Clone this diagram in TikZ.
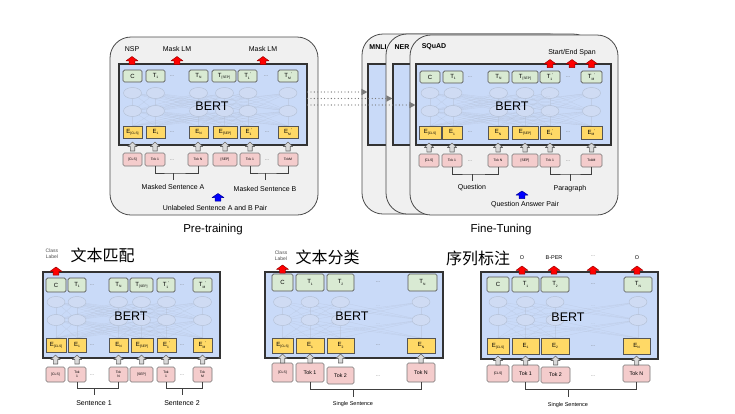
\documentclass[tikz,border=0pt]{standalone}
\usepackage{fontspec}
\setmainfont{Liberation Sans}
\newfontfamily\cjkfont{Noto Sans CJK SC}
\usetikzlibrary{arrows.meta}
\definecolor{panelfill}{HTML}{F0F0F0}
\definecolor{panelborder}{HTML}{4A4A4A}
\definecolor{bertfill}{HTML}{C9DAF8}
\definecolor{bertborder}{HTML}{333333}
\definecolor{tfill}{HTML}{D9EAD3}
\definecolor{tborder}{HTML}{555555}
\definecolor{efill}{HTML}{FFD966}
\definecolor{eborder}{HTML}{555555}
\definecolor{kfill}{HTML}{F4CCCC}
\definecolor{kborder}{HTML}{777777}
\definecolor{netc}{HTML}{B3BFD4}
\definecolor{netf}{HTML}{CFDBF3}
\definecolor{dotc}{HTML}{7A7A7A}
\definecolor{redA}{HTML}{FF0000}
\definecolor{redB}{HTML}{990000}
\definecolor{blueA}{HTML}{0000FF}
\definecolor{blueB}{HTML}{000099}
\definecolor{grayA}{HTML}{D9D9D9}
\definecolor{grayB}{HTML}{666666}
\newcommand\fnBox{\fontsize{6}{6}\selectfont}
\newcommand\fnTok{\fontsize{3.4}{3.9}\selectfont}
\newcommand\fnTokB{\fontsize{5.3}{6}\selectfont}
\newcommand\fnLab{\fontsize{7}{8}\selectfont}
\newcommand\mysub[1]{\raisebox{-0.45ex}{\fontsize{3.3}{3.3}\selectfont #1}}
\newcommand\mypr{\raisebox{0.7ex}{\fontsize{4}{4}\selectfont '}}
\newcommand\bx[7][]{\node[#1,minimum width={#4-#3},minimum height={#6-#5}] (#2) at ({(#3+#4)/2},{(#5+#6)/2}) {#7};}
\newcommand\bertnet[4]{%
  \foreach \a in {#1}{\foreach \b in {#1}{\draw[netline] (\a,#2) -- (\b,#3); \draw[netline] (\a,#3) -- (\b,#4);}}
  \foreach \a in {#1}{\draw[netnode] (\a,#2) ellipse [x radius=9, y radius=5.5]; \draw[netnode] (\a,#3) ellipse [x radius=9, y radius=5.5];}
}
\tikzset{
  panel/.style={draw=panelborder, fill=panelfill, rounded corners=21, line width=0.8, inner sep=0},
  bertbox/.style={draw=bertborder, fill=bertfill, line width=1.1, inner sep=0},
  tbox/.style={draw=tborder, fill=tfill, rounded corners=1.5, line width=0.7, inner sep=0, font=\fnBox},
  ebox/.style={draw=eborder, fill=efill, line width=0.7, inner sep=0, font=\fnBox},
  kbox/.style={draw=kborder, fill=kfill, rounded corners=1.5, line width=0.6, inner sep=0, font=\fnTok, align=center},
  netline/.style={draw=netc, line width=0.3, opacity=0.45},
  netnode/.style={draw=netc, fill=netf, line width=0.45},
  netdots/.style={text=netc, font=\fontsize{5}{5}\selectfont, inner sep=0},
  berttxt/.style={font=\fontsize{12.5}{13}\selectfont, inner sep=0},
  dotsn/.style={text=grayB, font=\fontsize{5}{5}\selectfont, inner sep=0},
  lab/.style={font=\fnLab, inner sep=0},
  smalllab/.style={font=\fontsize{5.5}{6}\selectfont, inner sep=0},
  clab/.style={font=\fontsize{5}{6}\selectfont, text=black!70, align=center, inner sep=0},
  ptitle/.style={font=\bfseries\fontsize{7}{8}\selectfont, inner sep=0},
  bigtitle/.style={font=\fontsize{11.5}{13}\selectfont, inner sep=0},
  cjk/.style={font=\cjkfont\fontsize{16}{18}\selectfont, inner sep=0},
  brk/.style={draw=black!75, line width=0.6},
  dotarr/.style={draw=dotc, line width=1.3, line cap=round, dash pattern=on 0pt off 3.4pt, -{Triangle[length=6pt,width=6pt,fill=dotc]}},
  garrstyle/.style={draw=grayB, fill=grayA, line width=0.6, line join=round},
  rarrstyle/.style={draw=redB, fill=redA, line width=0.5, line join=round},
  barrstyle/.style={draw=blueB, fill=blueA, line width=0.5, line join=round},
  garr/.pic={\path[garrstyle] (-2.2,0) -- (-2.2,-4.5) -- (-4.6,-4.5) -- (0,-9) -- (4.6,-4.5) -- (2.2,-4.5) -- (2.2,0) -- cycle;},
  rarr/.pic={\path[rarrstyle] (-2.8,0) -- (-2.8,-3.6) -- (-6,-3.6) -- (0,-8) -- (6,-3.6) -- (2.8,-3.6) -- (2.8,0) -- cycle;},
  barr/.pic={\path[barrstyle] (-2.8,0) -- (-2.8,-3.4) -- (-6,-3.4) -- (0,-7.5) -- (6,-3.4) -- (2.8,-3.4) -- (2.8,0) -- cycle;}
}
\begin{document}
\begin{tikzpicture}[x=1pt,y=-1pt]
\useasboundingbox (0,0) rectangle (735,413);
\fill[white] (0,0) rectangle (735,413);

% ================= Pre-training =================
\bx[panel]{pA}{110}{318}{37}{215}{}
\bx[bertbox]{bA}{119}{307}{64}{145}{}
\bertnet{132.5,155.5,198.5,224.5,248,288}{93}{111}{126}
\node[netdots] (aN1) at (240,97) {...};
\node[netdots] (aN2) at (240,115) {...};
\node[berttxt] (aB) at (212,106) {BERT};
\bx[tbox]{aT1}{123}{142}{70}{82}{C}
\bx[tbox]{aT2}{146}{165}{70}{82}{T\mysub{1}}
\node[dotsn] (aTd1) at (172,76) {...};
\bx[tbox]{aT3}{189}{208}{70}{82}{T\mysub{N}}
\bx[tbox]{aT4}{212}{236}{70}{82}{T\mysub{[SEP]}}
\bx[tbox]{aT5}{238}{257}{70}{82}{T\mysub{1}\mypr}
\node[dotsn] (aTd2) at (266,76) {...};
\bx[tbox]{aT6}{278}{298}{70}{82}{T\mysub{M}\mypr}
\bx[ebox]{aE1}{123}{142}{126}{138}{E\mysub{[CLS]}}
\bx[ebox]{aE2}{146}{165}{126}{138}{E\mysub{1}}
\node[dotsn] (aEd1) at (172,132) {...};
\bx[ebox]{aE3}{189}{208}{126}{138}{E\mysub{N}}
\bx[ebox]{aE4}{213}{237}{126}{138}{E\mysub{[SEP]}}
\bx[ebox]{aE5}{240}{258}{126}{138}{E\mysub{1}\mypr}
\node[dotsn] (aEd2) at (267,132) {...};
\bx[ebox]{aE6}{278}{298}{126}{138}{E\mysub{M}\mypr}
\bx[kbox]{aK1}{123}{142}{153}{166}{[CLS]}
\bx[kbox]{aK2}{145}{165}{153}{166}{Tok 1}
\node[dotsn] (aKd1) at (172,160) {...};
\bx[kbox]{aK3}{188}{208}{153}{166}{Tok N}
\bx[kbox]{aK4}{213}{237}{153}{166}{[SEP]}
\bx[kbox]{aK5}{240}{260}{153}{166}{Tok 1}
\node[dotsn] (aKd2) at (267,160) {...};
\bx[kbox]{aK6}{278}{298}{153}{166}{TokM}
\foreach \n in {aK1,aK2,aK3,aK4,aK5,aK6} \pic at (\n.north |- 0,151) {garr};
\node[lab] (aNSP) at (132,49) {NSP};
\node[lab] (aM1) at (177,49) {Mask LM};
\node[lab] (aM2) at (263,49) {Mask LM};
\pic at (aNSP.south |- 0,64.5) {rarr};
\pic at (aM1.south |- 0,64.5) {rarr};
\pic at (aM2.south |- 0,64.5) {rarr};
\node[lab] (aSA) at (173,187) {Masked Sentence A};
\node[lab] (aSB) at (265,189) {Masked Sentence B};
\coordinate (aBa) at (aSA.north |- 0,173);
\coordinate (aBb) at (aSB.north |- 0,173);
\draw[brk] (aK2.south) |- (aBa) -| (aK3.south);
\draw[brk] (aBa) -- ++(0,7);
\draw[brk] (aK5.south) |- (aBb) -| (aK6.south);
\draw[brk] (aBb) -- ++(0,7);
\node[lab] (aU) at (215,208) {Unlabeled Sentence A and B Pair};
\pic at (218,201) {barr};
\node[bigtitle] (aTitle) at (213,230) {Pre-training};

% ================= Fine-tuning =================
\bx[panel]{pMN}{362}{570}{34}{214}{}
\bx[bertbox]{bMN}{368}{560}{64}{145}{}
\bx[panel]{pNE}{386}{594}{34}{214}{}
\bx[bertbox]{bNE}{393}{585}{64}{145}{}
\bx[panel]{pSQ}{410}{618}{35}{215}{}
\bx[bertbox]{bSQ}{416}{611}{64}{145}{}
\node[ptitle] (tMN) at (378,47) {MNLI};
\node[ptitle] (tNE) at (402,47) {NER};
\node[ptitle] (tSQ) at (434,47) {SQuAD};
\bertnet{430,453,498.5,525,550,591.5}{93}{111}{126}
\node[netdots] (fN1) at (548,97) {...};
\node[netdots] (fN2) at (548,115) {...};
\node[berttxt] (fB) at (512,106) {BERT};
\bx[tbox]{fT1}{420}{440}{71}{83}{C}
\bx[tbox]{fT2}{443}{463}{71}{83}{T\mysub{1}}
\node[dotsn] (fTd1) at (470,77) {...};
\bx[tbox]{fT3}{488}{509}{71}{83}{T\mysub{N}}
\bx[tbox]{fT4}{512}{538}{71}{83}{T\mysub{[SEP]}}
\bx[tbox]{fT5}{540}{560}{71}{83}{T\mysub{1}\mypr}
\node[dotsn] (fTd2) at (568,77) {...};
\bx[tbox]{fT6}{581}{602}{71}{83}{T\mysub{M}\mypr}
\bx[ebox]{fE1}{419}{441}{126}{139}{E\mysub{[CLS]}}
\bx[ebox]{fE2}{442}{462}{126}{139}{E\mysub{1}}
\node[dotsn] (fEd1) at (470,132) {...};
\bx[ebox]{fE3}{488}{508}{126}{139}{E\mysub{N}}
\bx[ebox]{fE4}{512}{538}{126}{139}{E\mysub{[SEP]}}
\bx[ebox]{fE5}{540}{560}{126}{139}{E\mysub{1}\mypr}
\node[dotsn] (fEd2) at (568,132) {...};
\bx[ebox]{fE6}{581}{602}{126}{139}{E\mysub{M}\mypr}
\bx[kbox]{fK1}{419}{439}{154}{167}{[CLS]}
\bx[kbox]{fK2}{442}{462}{154}{167}{Tok 1}
\node[dotsn] (fKd1) at (470,161) {...};
\bx[kbox]{fK3}{488}{508}{154}{167}{Tok N}
\bx[kbox]{fK4}{512}{538}{154}{167}{[SEP]}
\bx[kbox]{fK5}{540}{560}{154}{167}{Tok 1}
\node[dotsn] (fKd2) at (568,161) {...};
\bx[kbox]{fK6}{581}{602}{154}{167}{TokM}
\foreach \n in {fK1,fK2,fK3,fK4,fK5,fK6} \pic at (\n.north |- 0,152) {garr};
\node[lab] (fSE) at (572,53) {Start/End Span};
\pic at (fT5.north |- 0,67.5) {rarr};
\pic at (572,67.5) {rarr};
\pic at (fT6.north |- 0,67.5) {rarr};
\node[lab] (fQ) at (472,188) {Question};
\node[lab] (fP) at (570,189) {Paragraph};
\coordinate (fBa) at (fQ.north |- 0,174);
\coordinate (fBb) at (fP.north |- 0,174);
\draw[brk] (fK2.south) |- (fBa) -| (fK3.south);
\draw[brk] (fBa) -- ++(0,7);
\draw[brk] (fK5.south) |- (fBb) -| (fK6.south);
\draw[brk] (fBb) -- ++(0,7);
\pic at (522,198.5) {barr};
\node[lab] (fQA) at (525,204.5) {Question Answer Pair};
\node[bigtitle] (fTitle) at (501,230) {Fine-Tuning};

% dotted transfer arrows
\draw[dotarr] (bA.east |- 0,92) -- (bMN.west |- 0,92);
\draw[dotarr] (bA.east |- 0,98.5) -- (bNE.west |- 0,98.5);
\draw[dotarr] (bA.east |- 0,105) -- (bSQ.west |- 0,105);

% ================= Sentence pair classification =================
\bx[bertbox]{bL}{43}{220}{272}{358}{}
\bertnet{56,77,118.5,141.5,166.5,202.5}{302}{320}{338}
\node[netdots] (lN1) at (160,306) {...};
\node[netdots] (lN2) at (160,324) {...};
\node[berttxt] (lB) at (131,316) {BERT};
\bx[tbox]{lT1}{46}{66}{278}{292}{C}
\bx[tbox]{lT2}{68}{86}{278}{292}{T\mysub{1}}
\node[dotsn] (lTd1) at (92,285) {...};
\bx[tbox]{lT3}{109}{128}{278}{292}{T\mysub{N}}
\bx[tbox]{lT4}{130}{153}{278}{292}{T\mysub{[SEP]}}
\bx[tbox]{lT5}{157}{175}{278}{292}{T\mysub{1}\mypr}
\node[dotsn] (lTd2) at (182,285) {...};
\bx[tbox]{lT6}{193}{212}{278}{292}{T\mysub{M}\mypr}
\bx[ebox]{lE1}{46}{66}{338}{352}{E\mysub{[CLS]}}
\bx[ebox]{lE2}{68}{86}{338}{352}{E\mysub{1}}
\node[dotsn] (lEd1) at (92,345) {...};
\bx[ebox]{lE3}{109}{128}{338}{352}{E\mysub{N}}
\bx[ebox]{lE4}{131}{153}{338}{352}{E\mysub{[SEP]}}
\bx[ebox]{lE5}{157}{176}{338}{352}{E\mysub{1}\mypr}
\node[dotsn] (lEd2) at (182,345) {...};
\bx[ebox]{lE6}{193}{212}{338}{352}{E\mysub{M}\mypr}
\bx[kbox]{lK1}{46}{65}{367}{382}{[CLS]}
\bx[kbox]{lK2}{68}{86}{367}{382}{Tok\\1}
\node[dotsn] (lKd1) at (92,375) {...};
\bx[kbox]{lK3}{109}{128}{367}{382}{Tok\\N}
\bx[kbox]{lK4}{130}{153}{367}{382}{[SEP]}
\bx[kbox]{lK5}{157}{175}{367}{382}{Tok\\1}
\node[dotsn] (lKd2) at (182,375) {...};
\bx[kbox]{lK6}{193}{212}{367}{382}{Tok\\M}
\foreach \n in {lK1,lK2,lK3,lK4,lK5,lK6} \pic at (\n.north |- 0,364) {garr};
\node[lab] (lS1) at (94,403) {Sentence 1};
\node[lab] (lS2) at (182,403) {Sentence 2};
\coordinate (lBa) at (lS1.north |- 0,388);
\coordinate (lBb) at (lS2.north |- 0,388);
\draw[brk] (lK2.south) |- (lBa) -| (lK3.south);
\draw[brk] (lBa) -- ++(0,7);
\draw[brk] (lK5.south) |- (lBb) -| (lK6.south);
\draw[brk] (lBb) -- ++(0,7);
\node[clab] (lCL) at (52,254) {Class\\Label};
\pic at (lT1.north |- 0,275) {rarr};
\node[cjk] (lZh) at (102.5,255) {文本匹配};

% ================= Single sentence classification =================
\bx[bertbox]{bC}{265}{443}{272}{358}{}
\bertnet{282.5,310,340.5,421}{302}{320}{338}
\node[netdots] (cN1) at (378,306) {...};
\node[netdots] (cN2) at (378,324) {...};
\node[berttxt] (cB) at (352,316) {BERT};
\bx[tbox]{cT1}{272}{293}{274}{291}{C}
\bx[tbox]{cT2}{296}{324}{274}{291}{T\mysub{1}}
\bx[tbox]{cT3}{327}{354}{274}{291}{T\mysub{2}}
\node[dotsn] (cTd) at (378,282) {...};
\bx[tbox]{cT4}{408}{437}{274}{291}{T\mysub{N}}
\bx[ebox]{cE1}{272}{293}{338}{353}{E\mysub{[CLS]}}
\bx[ebox]{cE2}{296}{324}{338}{353}{E\mysub{1}}
\bx[ebox]{cE3}{327}{354}{338}{353}{E\mysub{2}}
\node[dotsn] (cEd) at (378,345) {...};
\bx[ebox]{cE4}{407}{435}{338}{353}{E\mysub{N}}
\bx[kbox]{cK1}{272}{293}{363}{382}{[CLS]}
\bx[kbox,font=\fnTokB]{cK2}{296}{324}{363}{382}{Tok 1}
\bx[kbox,font=\fnTokB]{cK3}{327}{354}{367}{384}{Tok 2}
\node[dotsn] (cKd) at (378,376) {...};
\bx[kbox,font=\fnTokB]{cK4}{407}{435}{363}{382}{Tok N}
\foreach \n in {cK1,cK2,cK3,cK4} \pic at (\n.north |- 0,363) {garr};
\node[smalllab] (cSS) at (353,404) {Single Sentence};
\coordinate (cBa) at (cSS.north |- 0,389);
\draw[brk] (cK2.south) |- (cBa) -| (cK4.south);
\draw[brk] (cBa) -- ++(0,8);
\node[clab] (cCL) at (281,256) {Class\\Label};
\pic at (cT1.north |- 0,273) {rarr};
\node[cjk] (cZh) at (327.5,257) {文本分类};

% ================= Sequence labelling =================
\bx[bertbox]{bR}{481}{658}{272}{359}{}
\bertnet{498,525.5,555,638}{302}{320}{338}
\node[netdots] (rN1) at (593,306) {...};
\node[netdots] (rN2) at (593,324) {...};
\node[berttxt] (rB) at (568,317) {BERT};
\bx[tbox]{rT1}{487}{509}{277}{292}{C}
\bx[tbox]{rT2}{512}{539}{277}{292}{T\mysub{1}}
\bx[tbox]{rT3}{541}{569}{277}{292}{T\mysub{2}}
\node[dotsn] (rTd) at (593,284) {...};
\bx[tbox]{rT4}{624}{652}{277}{292}{T\mysub{N}}
\bx[ebox]{rE1}{487}{509}{338}{354}{E\mysub{[CLS]}}
\bx[ebox]{rE2}{512}{539}{338}{354}{E\mysub{1}}
\bx[ebox]{rE3}{541}{569}{338}{354}{E\mysub{2}}
\node[dotsn] (rEd) at (593,346) {...};
\bx[ebox]{rE4}{623}{650}{338}{354}{E\mysub{N}}
\bx[kbox]{rK1}{487}{509}{365}{382}{[CLS]}
\bx[kbox,font=\fnTokB]{rK2}{512}{539}{365}{382}{Tok 1}
\bx[kbox,font=\fnTokB]{rK3}{541}{570}{367}{383}{Tok 2}
\node[dotsn] (rKd) at (593,376) {...};
\bx[kbox,font=\fnTokB]{rK4}{623}{650}{365}{382}{Tok N}
\foreach \n in {rK1,rK2,rK3,rK4} \pic at (\n.north |- 0,365) {garr};
\node[smalllab] (rSS) at (568,405) {Single Sentence};
\coordinate (rBa) at (rSS.north |- 0,389);
\draw[brk] (rK2.south) |- (rBa) -| (rK4.south);
\draw[brk] (rBa) -- ++(0,8);
\node[smalllab] (rO1) at (522,258) {O};
\node[smalllab] (rBP) at (554,258) {B-PER};
\node[dotsn] (rDD) at (593,256) {...};
\node[smalllab] (rO2) at (637,258) {O};
\pic at (rO1.south |- 0,274) {rarr};
\pic at (rBP.south |- 0,274) {rarr};
\pic at (rDD.south |- 0,274) {rarr};
\pic at (rO2.south |- 0,274) {rarr};
\node[cjk] (rZh) at (478,258) {序列标注};
\end{tikzpicture}
\end{document}
